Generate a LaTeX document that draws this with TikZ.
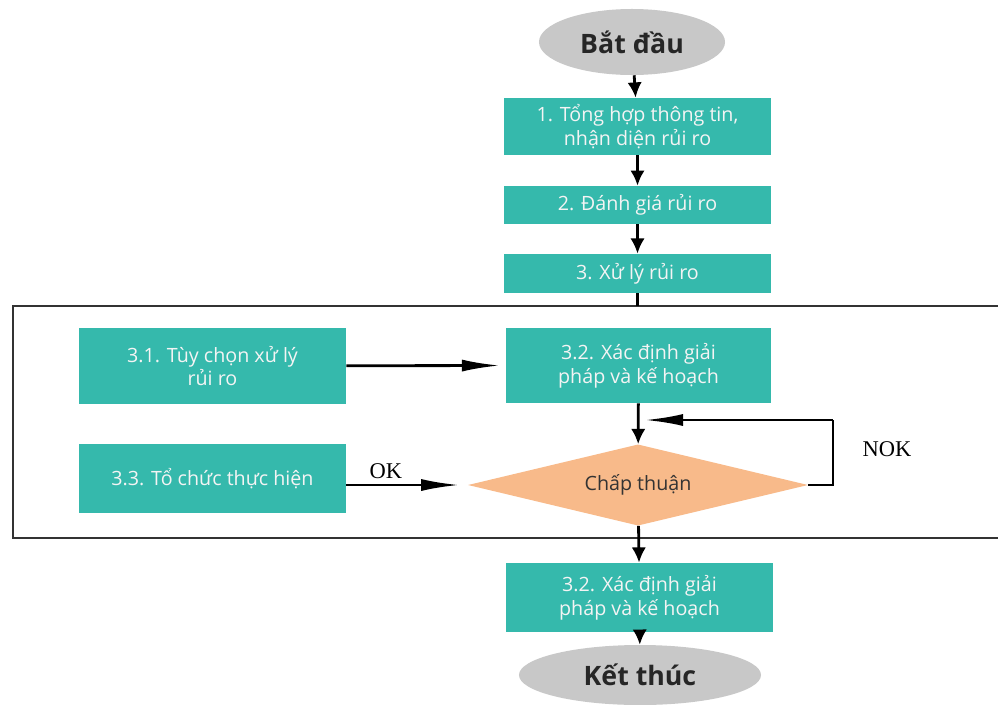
\documentclass[tikz,border=0pt]{standalone}
\usepackage{fontspec}
\setmainfont{Open Sans}
\newfontfamily\labelfont{Liberation Serif}
\usetikzlibrary{shapes.geometric,arrows.meta}
\definecolor{boxteal}{HTML}{35B9AC}
\definecolor{boxtext}{HTML}{F4F4F4}
\definecolor{decorange}{HTML}{F8BA8A}
\definecolor{endgray}{HTML}{C8C8C8}
\tikzset{
	stepbox/.style={fill=boxteal,text=boxtext,align=center,minimum width=6.68cm,inner sep=2pt,font=\fontsize{14}{17}\selectfont},
	terminal/.style={ellipse,fill=endgray,text=black!85,font=\fontsize{19}{21}\selectfont\bfseries},
	decision/.style={diamond,fill=decorange,text=black!80,aspect=4,inner sep=0pt,minimum width=8.5cm,minimum height=2.03cm,font=\fontsize{14}{17}\selectfont},
	flow/.style={line width=2pt,-{Latex[length=3.8mm,width=3.6mm]}},
	hflow/.style={line width=2pt,-{Latex[length=9.5mm,width=3mm]}}
}
\begin{document}
\begin{tikzpicture}[x=0.025cm,y=-0.025cm]
		\useasboundingbox (0,0) rectangle (998,704);
		
		\node[terminal,minimum width=4.65cm,minimum height=1.65cm] (start) at(632,42) {Bắt đầu};
		\node[stepbox,minimum height=1.43cm] (tonghop) at(637.5,126.5) {1. Tổng hợp thông tin,\\nhận diện rủi ro};
		\node[stepbox,minimum height=0.95cm] (danhgia) at(637.5,205) {2. Đánh giá rủi ro};
		\node[stepbox,minimum height=0.98cm] (xuly) at(637.5,273.5) {3. Xử lý rủi ro};
		
		% khung cho buoc 3
		\draw[line width=1pt,black!80] (998,306) -- (13,306) -- (13,538) -- (998,538);
		\coordinate (frtop) at(637.5,306);
		
		\node[stepbox,minimum height=1.9cm] (tuychon) at(212.5,366) {3.1. Tùy chọn xử lý\\rủi ro};
		\node[stepbox,minimum height=1.88cm,minimum width=6.63cm] (xacdinh) at(638.5,365.5) {3.2. Xác định giải\\pháp và kế hoạch};
		\node[stepbox,minimum height=1.73cm] (tochuc) at(212.5,478.5) {3.3. Tổ chức thực hiện};
		\node[decision] (chapthuan) at(638,485) {Chấp thuận};
		\coordinate (nokr) at(833,485);
		\coordinate (nokt) at(833,420);
		\coordinate (noke) at(645,420);
		
		\node[stepbox,minimum height=1.73cm] (xacdinhb) at(639.5,597.5) {3.2. Xác định giải\\pháp và kế hoạch};
		\node[terminal,minimum width=6.05cm,minimum height=1.5cm] (ketthuc) at(640,675) {Kết thúc};
		
		\draw[flow] (start) -- (tonghop);
		\draw[flow] (tonghop) -- (danhgia);
		\draw[flow] (danhgia) -- (xuly);
		\draw[line width=2pt] (xuly) -- (frtop);
		\draw[hflow] (tuychon) -- ([xshift=-4pt]xacdinh.west);
		\draw[flow] (xacdinh) -- (chapthuan);
		\draw[hflow] (tochuc.east |- chapthuan) -- node[above,font=\labelfont\fontsize{16}{18}\selectfont,xshift=-12pt] {OK} ([xshift=-6pt]chapthuan.west);
		\draw[line width=2pt,line join=miter] (chapthuan.east) -- (nokr) -- (nokt);
		\draw[hflow] (nokt) -- (noke);
		\node[font=\labelfont\fontsize{16}{18}\selectfont] (noklabel) at(887,449) {NOK};
		\draw[flow] (chapthuan) -- (xacdinhb);
		\draw[flow] (xacdinhb) -- (ketthuc);
		\end{tikzpicture}
\end{document}
